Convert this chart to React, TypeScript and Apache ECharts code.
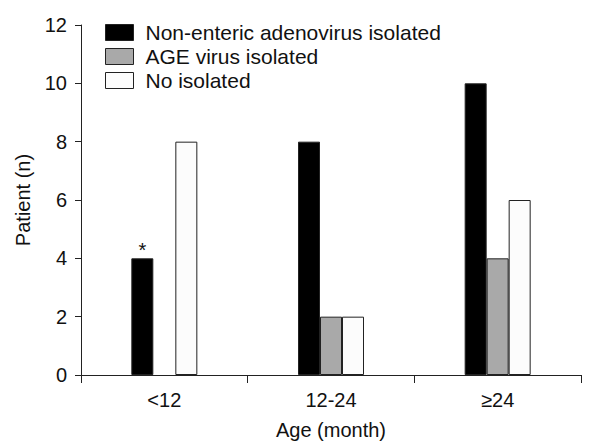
import React, { useEffect, useRef } from "react";
import * as echarts from "echarts";

const categories = ["<12", "12-24", "≥24"];
const seriesNames = ["Non-enteric adenovirus isolated", "AGE virus isolated", "No isolated"];
const nonEnteric = [4, 8, 10];
const ageVirus = [0, 2, 4];
const noIsolated = [8, 2, 6];
const yTicks = [0, 2, 4, 6, 8, 10, 12];

const FONT = "Liberation Sans, Arial, sans-serif";
const FS = 20;

export default function App() {
  const ref = useRef<HTMLDivElement>(null);
  useEffect(() => {
    if (!ref.current) return;
    const chart = echarts.init(ref.current, undefined, { renderer: "svg" });
    const common = {
      type: "bar",
      barWidth: 22,
      barGap: "0%",
    };
    const toItems = (arr: number[]) =>
      arr.map((v) => (v === 0 ? { value: v, itemStyle: { borderWidth: 0, opacity: 0 } } : v));
    chart.setOption({
      animation: false,
      textStyle: { fontFamily: FONT },
      grid: { left: 81, right: 16, top: 25, bottom: 66, outerBoundsMode: "none", containLabel: false },
      legend: {
        left: 100,
        top: 17,
        orient: "vertical",
        icon: "rect",
        itemWidth: 28,
        itemHeight: 16,
        itemGap: 3,
        itemStyle: { borderColor: "#222", borderWidth: 1 },
        textStyle: { fontSize: 21, color: "#111", fontFamily: FONT, padding: [0, 0, 0, 7] },
        data: seriesNames,
      },
      xAxis: {
        type: "category",
        data: categories,
        boundaryGap: true,
        axisLine: { lineStyle: { color: "#222", width: 1 } },
        axisTick: { show: true, length: 8, inside: false, lineStyle: { color: "#222" } },
        axisLabel: { fontSize: FS, color: "#111", margin: 15, fontFamily: FONT },
        name: "Age (month)",
        nameLocation: "middle",
        nameGap: 45,
        nameTextStyle: { fontSize: FS, color: "#111", fontFamily: FONT },
      },
      yAxis: {
        type: "value",
        min: yTicks[0],
        max: yTicks[yTicks.length - 1],
        interval: 2,
        splitLine: { show: false },
        axisLine: { show: true, lineStyle: { color: "#222", width: 1 } },
        axisTick: { show: true, length: 6, lineStyle: { color: "#222" } },
        axisLabel: { fontSize: FS, color: "#111", margin: 14, fontFamily: FONT },
        name: "Patient (n)",
        nameLocation: "middle",
        nameGap: 48,
        nameTextStyle: { fontSize: FS, color: "#111", fontFamily: FONT },
      },
      series: [
        {
          ...common,
          name: seriesNames[0],
          itemStyle: { color: "#000000", borderColor: "#222", borderWidth: 1 },
          data: nonEnteric.map((v, i) =>
            i === 0
              ? {
                  value: v,
                  label: {
                    show: true,
                    position: "top",
                    formatter: "*",
                    fontSize: FS,
                    color: "#111",
                    distance: -2,
                    fontFamily: FONT,
                  },
                }
              : v
          ),
        },
        {
          ...common,
          name: seriesNames[1],
          itemStyle: { color: "#a9a9a9", borderColor: "#222", borderWidth: 1 },
          data: toItems(ageVirus),
        },
        {
          ...common,
          name: seriesNames[2],
          itemStyle: { color: "#fcfcfc", borderColor: "#222", borderWidth: 1 },
          data: toItems(noIsolated),
        },
      ],
    });
    return () => chart.dispose();
  }, []);
  return <div ref={ref} style={{ width: 597, height: 441, position: "fixed", left: 0, top: 0, background: "#fff" }} />;
}
